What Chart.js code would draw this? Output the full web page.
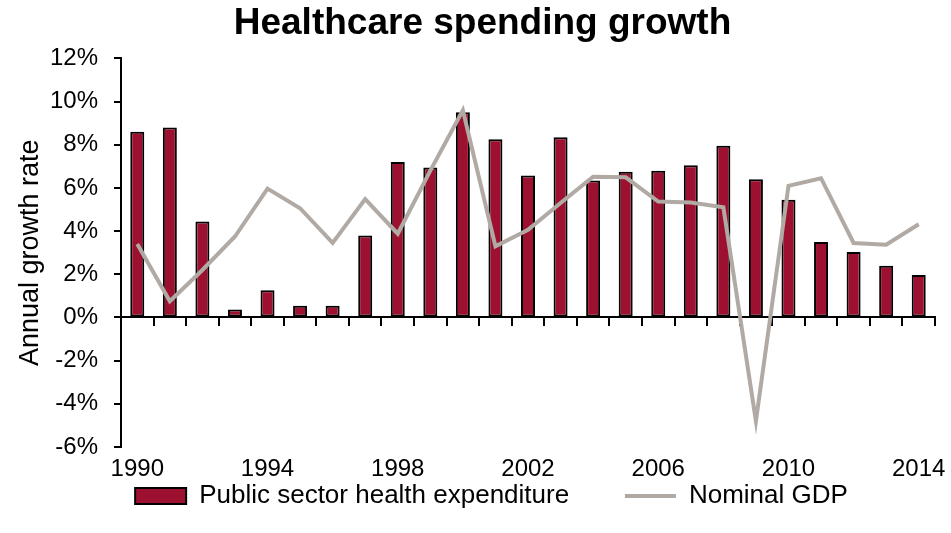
<!DOCTYPE html>
<html>
<head>
<meta charset="utf-8">
<script src="https://cdn.jsdelivr.net/npm/chart.js@4"></script>
<style>
  html, body { margin: 0; padding: 0; background: #fff; }
</style>
</head>
<body>
<canvas id="growthChart" width="951" height="533"></canvas>
<script>
// datos del grafico
const years = ['1990','1991','1992','1993','1994','1995','1996','1997','1998','1999','2000','2001','2002',
  '2003','2004','2005','2006','2007','2008','2009','2010','2011','2012','2013','2014']
const healthSpending = [8.6, 8.8, 4.45, 0.37, 1.26, 0.54, 0.54, 3.8, 7.2, 6.95, 9.5, 8.25, 6.58,
  8.35, 6.35, 6.75, 6.8, 7.05, 7.95, 6.4, 5.45, 3.5, 3.03, 2.4, 1.97]
const nominalGdp = [3.4, 0.75, 2.2, 3.75, 5.97, 5.06, 3.45, 5.48, 3.88, 6.8, 9.6, 3.3, 4.06,
  5.3, 6.52, 6.49, 5.37, 5.32, 5.1, -4.8, 6.1, 6.45, 3.45, 3.37, 4.32]
const yTicks = [-6, -4, -2, 0, 2, 4, 6, 8, 10, 12]

const font = "'Liberation Sans', Arial, sans-serif"
Chart.defaults.font.family = font
Chart.defaults.color = '#000'

// mueve la leyenda y el titulo un poco a la derecha, como en el original
const shiftBlocks = {
  id: 'shiftBlocks',
  afterLayout(c) {
    c.legend.left += 17
    c.legend.right += 17
    c.titleBlock.left += 8
    c.titleBlock.right += 8
  }
}

const ctx = document.getElementById('growthChart').getContext('2d')
const chart = new Chart(ctx, {
  type: 'bar',
  data: {
    labels: years,
    datasets: [
      {
        type: 'line',
        label: 'Nominal GDP',
        data: nominalGdp,
        borderColor: '#b1aaa4',
        backgroundColor: '#b1aaa4',
        borderWidth: 4,
        pointRadius: 0,
        tension: 0,
        pointStyle: 'line',
        order: 0
      },
      {
        label: 'Public sector health expenditure',
        data: healthSpending,
        backgroundColor: '#9e1030',
        borderColor: '#000',
        borderWidth: 2,
        borderSkipped: false,
        barPercentage: 0.43,
        categoryPercentage: 1,
        pointStyle: 'rect',
        order: 1
      }
    ]
  },
  options: {
    responsive: false,
    animation: false,
    layout: { padding: { left: 14, right: 16, top: 0, bottom: 14 } },
    plugins: {
      title: {
        display: true,
        text: 'Healthcare spending growth',
        font: { size: 37, weight: 'bold', family: font },
        color: '#000',
        padding: { top: 2, bottom: 12 }
      },
      legend: {
        position: 'bottom',
        reverse: true,
        labels: {
          usePointStyle: true,
          pointStyleWidth: 51,
          boxHeight: 16,
          font: { size: 26, family: font, lineHeight: 1 },
          color: '#000',
          padding: 0,
          // espacio extra entre las dos entradas de la leyenda
          generateLabels: c => {
            const items = Chart.defaults.plugins.legend.labels.generateLabels(c)
            items.forEach(it => { if (it.datasetIndex === 1) it.text = it.text + '       \u2009' })
            return items
          }
        }
      },
      tooltip: { enabled: false }
    },
    scales: {
      x: {
        position: { y: 0 },
        offset: true,
        ticks: { display: false },
        grid: { offset: true, drawOnChartArea: false, tickLength: 8, color: '#000', lineWidth: 2 },
        border: { color: '#000', width: 2 }
      },
      x2: {
        type: 'category',
        position: 'bottom',
        offset: true,
        grid: { display: false },
        border: { display: false },
        ticks: {
          autoSkip: false,
          maxRotation: 0,
          font: { size: 24, family: font, lineHeight: 1 },
          color: '#000',
          padding: 2,
          callback: (v, i) => i % 4 === 0 ? years[i] : ''
        }
      },
      y: {
        min: -6,
        max: 12,
        afterBuildTicks: axis => { axis.ticks = yTicks.map(v => ({ value: v })) },
        afterFit: axis => { axis.width = 107 },
        ticks: {
          font: { size: 24, family: font },
          color: '#000',
          padding: 16,
          callback: v => v + '%'
        },
        grid: { drawOnChartArea: false, tickLength: 7, color: '#000', lineWidth: 2 },
        border: { color: '#000', width: 2 },
        title: {
          display: true,
          text: 'Annual growth rate',
          font: { size: 27, family: font },
          color: '#000',
          padding: { top: 0, bottom: 4 }
        }
      }
    }
  },
  plugins: [shiftBlocks]
})
</script>
</body>
</html>
